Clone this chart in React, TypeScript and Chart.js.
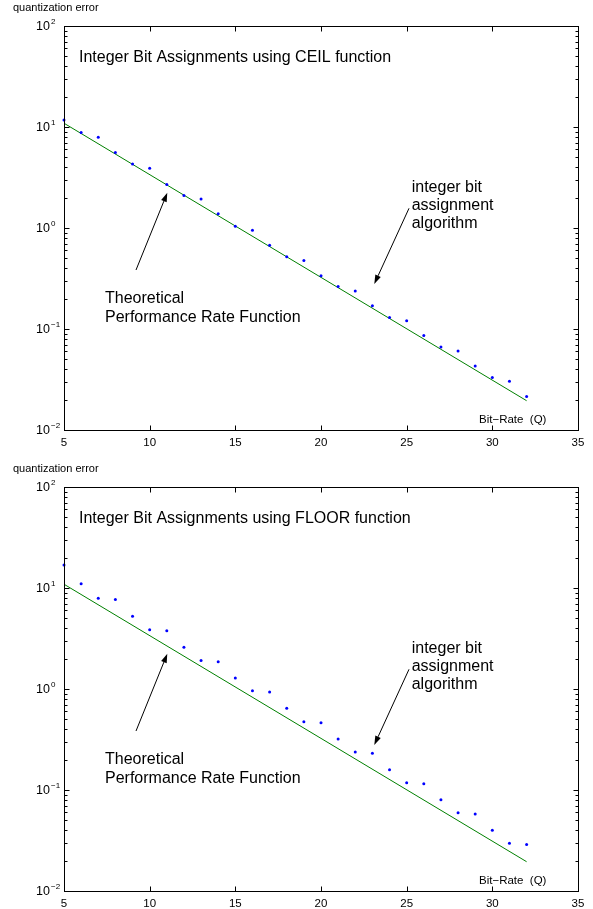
import React, { useEffect, useRef } from 'react';
import { Chart, registerables } from 'chart.js';

Chart.register(...registerables);

// ---- data ----
const bitRates = [5, 6, 7, 8, 9, 10, 11, 12, 13, 14, 15, 16, 17, 18, 19, 20, 21, 22, 23, 24, 25, 26, 27, 28, 29, 30, 31, 32];
const ceilError = [11.7, 8.8, 7.9, 5.6, 4.3, 3.9, 2.7, 2.1, 1.94, 1.38, 1.04, 0.95, 0.676, 0.519, 0.478, 0.337, 0.263, 0.238, 0.17, 0.13, 0.121, 0.086, 0.0665, 0.0607, 0.0429, 0.0331, 0.0303, 0.0215];
const floorError = [16.9, 11.0, 7.9, 7.7, 5.25, 3.87, 3.78, 2.59, 1.91, 1.86, 1.285, 0.962, 0.933, 0.644, 0.475, 0.464, 0.32, 0.238, 0.231, 0.159, 0.118, 0.115, 0.08, 0.0594, 0.058, 0.04, 0.0297, 0.0288];
const theoryRates = [5, 32];
const theoryError = [10.9, 0.0195];

const xTickValues = [5, 10, 15, 20, 25, 30, 35];
const xTickLabels = ['5', '10', '15', '20', '25', '30', '35'];
const yDecadeExponents = [-2, -1, 0, 1, 2];
const yMinorFactors = [2, 3, 4, 5, 6, 7, 8, 9];

const yAxisLabel = 'quantization error';
const xAxisLabel = 'Bit\u2212Rate  (Q)';
const ceilTitle = 'Integer Bit Assignments using CEIL function';
const floorTitle = 'Integer Bit Assignments using FLOOR function';
const algorithmNote = ['integer bit', 'assignment', 'algorithm'];
const theoryNote = ['Theoretical', 'Performance Rate Function'];

const FONT = '"Liberation Sans", Arial, Helvetica, sans-serif';

// layout (pixel offsets relative to the chart area)
const AREA = { left: 64, top: 26, right: 15, bottomFromTop: 430 };
const NOTE_POS = {
  title: { x: 15, y: 36 },
  algo: { x: 347.7, y: 166, dy: 18 },
  theory: { x: 41, y: 277.3, dy: 18.4 },
  xLabel: { x: 415, y: 396.5 },
  yLabel: { x: -51, y: -15 },
  arrow1: { x1: 72, y1: 244, x2: 103.3, y2: 166.7 },
  arrow2: { x1: 345, y1: 182.3, x2: 310.3, y2: 258 },
};

function drawArrow(ctx: CanvasRenderingContext2D, x1: number, y1: number, x2: number, y2: number) {
  const ang = Math.atan2(y2 - y1, x2 - x1);
  const len = 9;
  const hw = 3;
  const bx = x2 - len * Math.cos(ang);
  const by = y2 - len * Math.sin(ang);
  ctx.beginPath();
  ctx.moveTo(x1, y1);
  ctx.lineTo(bx, by);
  ctx.stroke();
  ctx.beginPath();
  ctx.moveTo(x2, y2);
  ctx.lineTo(bx + hw * Math.sin(ang), by - hw * Math.cos(ang));
  ctx.lineTo(bx - hw * Math.sin(ang), by + hw * Math.cos(ang));
  ctx.closePath();
  ctx.fill();
}

function makeDecor(title: string) {
  return {
    id: 'decor',
    afterDraw(chart: any) {
      const { ctx, chartArea: a, scales } = chart;
      const xs = scales.x;
      const ys = scales.y;
      ctx.save();
      ctx.strokeStyle = '#000';
      ctx.fillStyle = '#000';
      ctx.lineWidth = 1;
      const L = Math.round(a.left) + 0.5;
      const R = Math.round(a.right) + 0.5;
      const T = Math.round(a.top) + 0.5;
      const B = Math.round(a.bottom) + 0.5;
      ctx.strokeRect(L, T, R - L, B - T);

      // x ticks (inward, top and bottom)
      ctx.beginPath();
      xTickValues.forEach((v) => {
        const px = Math.round(xs.getPixelForValue(v)) + 0.5;
        ctx.moveTo(px, B);
        ctx.lineTo(px, B - 5);
        ctx.moveTo(px, T);
        ctx.lineTo(px, T + 5);
      });
      // y ticks
      yDecadeExponents.forEach((e) => {
        const py = Math.round(ys.getPixelForValue(Math.pow(10, e))) + 0.5;
        ctx.moveTo(L, py);
        ctx.lineTo(L + 5, py);
        ctx.moveTo(R, py);
        ctx.lineTo(R - 5, py);
        if (e < 2) {
          yMinorFactors.forEach((f) => {
            const pm = Math.round(ys.getPixelForValue(f * Math.pow(10, e))) + 0.5;
            ctx.moveTo(L, pm);
            ctx.lineTo(L + 3, pm);
            ctx.moveTo(R, pm);
            ctx.lineTo(R - 3, pm);
          });
        }
      });
      ctx.stroke();

      // x tick labels
      ctx.font = `11.5px ${FONT}`;
      ctx.textAlign = 'center';
      ctx.textBaseline = 'alphabetic';
      xTickValues.forEach((v, i) => {
        ctx.fillText(xTickLabels[i], xs.getPixelForValue(v), a.bottom + 15.5);
      });

      // y tick labels 10^e
      yDecadeExponents.forEach((e) => {
        const py = ys.getPixelForValue(Math.pow(10, e));
        ctx.font = `12.5px ${FONT}`;
        ctx.textAlign = 'right';
        ctx.textBaseline = 'middle';
        ctx.fillText('10', a.left - 14, py + 0.5);
        ctx.font = `8px ${FONT}`;
        ctx.textAlign = 'left';
        ctx.fillText(e < 0 ? '\u2212' + Math.abs(e) : String(e), a.left - 13, py - 4.5);
      });

      // texts
      ctx.textAlign = 'left';
      ctx.textBaseline = 'alphabetic';
      ctx.font = `11px ${FONT}`;
      ctx.fillText(yAxisLabel, a.left + NOTE_POS.yLabel.x, a.top + NOTE_POS.yLabel.y);
      ctx.font = `11.5px ${FONT}`;
      ctx.fillText(xAxisLabel, a.left + NOTE_POS.xLabel.x, a.top + NOTE_POS.xLabel.y);
      ctx.font = `16px ${FONT}`;
      ctx.fillText(title, a.left + NOTE_POS.title.x, a.top + NOTE_POS.title.y);
      algorithmNote.forEach((t, i) => {
        ctx.fillText(t, a.left + NOTE_POS.algo.x, a.top + NOTE_POS.algo.y + i * NOTE_POS.algo.dy);
      });
      theoryNote.forEach((t, i) => {
        ctx.fillText(t, a.left + NOTE_POS.theory.x, a.top + NOTE_POS.theory.y + i * NOTE_POS.theory.dy);
      });

      const ar1 = NOTE_POS.arrow1;
      const ar2 = NOTE_POS.arrow2;
      drawArrow(ctx, a.left + ar1.x1, a.top + ar1.y1, a.left + ar1.x2, a.top + ar1.y2);
      drawArrow(ctx, a.left + ar2.x1, a.top + ar2.y1, a.left + ar2.x2, a.top + ar2.y2);
      ctx.restore();
    },
  };
}

function Panel({ top, height, errors, title }: { top: number; height: number; errors: number[]; title: string }) {
  const ref = useRef<HTMLCanvasElement>(null);
  useEffect(() => {
    const chart = new Chart(ref.current as HTMLCanvasElement, {
      type: 'scatter',
      data: {
        datasets: [
          {
            label: 'integer bit assignment algorithm',
            data: bitRates.map((q, i) => ({ x: q, y: errors[i] })),
            backgroundColor: '#0000ff',
            borderColor: '#0000ff',
            borderWidth: 0,
            pointRadius: 1.5,
            pointHoverRadius: 1.5,
            clip: false,
          } as any,
          {
            label: 'theoretical',
            data: theoryRates.map((q, i) => ({ x: q, y: theoryError[i] })),
            showLine: true,
            borderColor: '#008000',
            backgroundColor: '#008000',
            borderWidth: 1,
            pointRadius: 0,
            fill: false,
            tension: 0,
          } as any,
        ],
      },
      options: {
        responsive: false,
        animation: false,
        events: [],
        layout: {
          padding: { left: AREA.left, top: AREA.top, right: AREA.right, bottom: height - AREA.bottomFromTop },
        },
        plugins: {
          legend: { display: false },
          tooltip: { enabled: false },
          title: { display: false },
        },
        scales: {
          x: {
            type: 'linear',
            min: 5,
            max: 35,
            grid: { display: false, drawTicks: false },
            border: { display: false },
            ticks: { stepSize: 5, display: false },
            afterFit: (s: any) => {
              s.height = 0;
            },
          },
          y: {
            type: 'logarithmic',
            min: 0.01,
            max: 100,
            grid: { display: false, drawTicks: false },
            border: { display: false },
            ticks: { display: false },
            afterFit: (s: any) => {
              s.width = 0;
            },
          },
        } as any,
      },
      plugins: [makeDecor(title)],
    });
    return () => chart.destroy();
  }, []);
  return (
    <canvas
      ref={ref}
      width={593}
      height={height}
      style={{ position: 'absolute', left: 0, top, width: 593, height, display: 'block' }}
    />
  );
}

export default function App() {
  return (
    <div style={{ position: 'absolute', left: 0, top: 0, width: 593, height: 909, background: '#fff', overflow: 'hidden' }}>
      <Panel top={0} height={461} errors={ceilError} title={ceilTitle} />
      <Panel top={461} height={448} errors={floorError} title={floorTitle} />
    </div>
  );
}
